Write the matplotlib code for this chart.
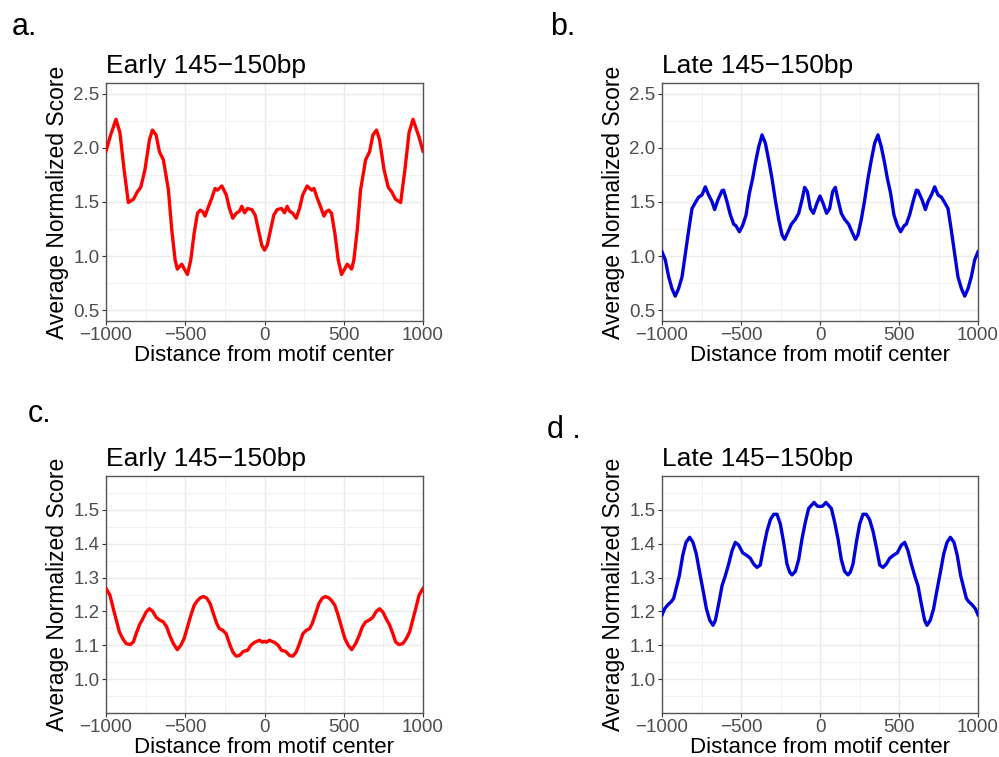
import matplotlib
matplotlib.use("Agg")
import matplotlib.pyplot as plt
from matplotlib.ticker import MultipleLocator, FuncFormatter

plt.rcParams['font.family'] = ['Liberation Sans', 'DejaVu Sans']

# panel a: early, wide scale
a_x = [-1000, -975, -937, -912, -886, -859, -827, -802, -781, -754, -726, -707, -684, -663,
       -638, -606, -585, -564, -550, -522, -507, -486, -465, -444, -423, -406, -389, -375,
       -354, -333, -312, -297, -269, -241, -221, -200, -179, -158, -143, -126, -107, -80,
       -59, -38, -17, 0, 17, 38, 59, 80, 107, 126, 143, 158, 179, 200, 221, 241, 269, 297,
       312, 333, 354, 375, 389, 406, 423, 444, 465, 486, 507, 522, 550, 564, 585, 606, 638,
       663, 684, 707, 726, 754, 781, 802, 827, 859, 886, 912, 937, 975, 1000]
a_y = [1.97, 2.10, 2.265, 2.14, 1.80, 1.495, 1.525, 1.595, 1.635, 1.80, 2.075, 2.165, 2.12, 1.965,
       1.89, 1.61, 1.24, 0.965, 0.88, 0.925, 0.885, 0.83, 0.965, 1.21, 1.395, 1.425, 1.41, 1.37,
       1.455, 1.535, 1.625, 1.61, 1.648, 1.565, 1.44, 1.35, 1.395, 1.415, 1.46, 1.40, 1.44, 1.43,
       1.38, 1.24, 1.10, 1.055, 1.10, 1.24, 1.38, 1.43, 1.44, 1.40, 1.46, 1.415, 1.395, 1.35, 1.44,
       1.565, 1.648, 1.61, 1.625, 1.535, 1.455, 1.37, 1.41, 1.425, 1.395, 1.21, 0.965, 0.83, 0.885,
       0.925, 0.88, 0.965, 1.24, 1.61, 1.89, 1.965, 2.12, 2.165, 2.075, 1.80, 1.635, 1.595, 1.525,
       1.495, 1.80, 2.14, 2.265, 2.10, 1.97]

# panel b: late, wide scale
b_x = [-1000, -979, -958, -937, -916, -895, -873, -852, -831, -810, -789, -768, -747, -726, -705,
       -684, -667, -646, -620, -610, -589, -567, -546, -532, -510, -489, -468, -447, -426, -409,
       -388, -367, -346, -325, -304, -283, -261, -240, -224, -202, -181, -156, -135, -114, -97,
       -80, -61, -42, -19, 0, 19, 42, 61, 80, 97, 114, 135, 156, 181, 202, 224, 240, 261, 283,
       304, 325, 346, 367, 388, 409, 426, 447, 468, 489, 510, 532, 546, 567, 589, 610, 620, 646,
       667, 684, 705, 726, 747, 768, 789, 810, 831, 852, 873, 895, 916, 937, 958, 979, 1000]
b_y = [1.04, 0.965, 0.81, 0.70, 0.63, 0.70, 0.81, 1.025, 1.24, 1.44, 1.495, 1.545, 1.565, 1.64, 1.565,
       1.505, 1.43, 1.52, 1.605, 1.61, 1.505, 1.38, 1.295, 1.28, 1.225, 1.285, 1.38, 1.58, 1.72, 1.86,
       2.01, 2.12, 2.045, 1.89, 1.72, 1.52, 1.335, 1.195, 1.155, 1.225, 1.295, 1.34, 1.395, 1.52, 1.635,
       1.595, 1.44, 1.395, 1.49, 1.555, 1.49, 1.395, 1.44, 1.595, 1.635, 1.52, 1.395, 1.34, 1.295, 1.225,
       1.155, 1.195, 1.335, 1.52, 1.72, 1.89, 2.045, 2.12, 2.01, 1.86, 1.72, 1.58, 1.38, 1.285, 1.225,
       1.28, 1.295, 1.38, 1.505, 1.61, 1.605, 1.52, 1.43, 1.505, 1.565, 1.64, 1.565, 1.545, 1.495, 1.44,
       1.24, 1.025, 0.81, 0.70, 0.63, 0.70, 0.81, 0.965, 1.04]

# panel c: early, narrow scale
c_x = [-1000, -975, -954, -937, -916, -895, -873, -848, -827, -810, -789, -768, -747, -726, -705,
       -684, -663, -638, -617, -596, -575, -550, -528, -507, -486, -465, -444, -423, -406, -385,
       -364, -343, -322, -301, -284, -263, -242, -221, -200, -179, -158, -133, -107, -86, -65,
       -31, -12, 0, 12, 31, 65, 86, 107, 133, 158, 179, 200, 221, 242, 263, 284, 301, 322, 343,
       364, 385, 406, 423, 444, 465, 486, 507, 528, 550, 575, 596, 617, 638, 663, 684, 705, 726,
       747, 768, 789, 810, 827, 848, 873, 895, 916, 937, 954, 975, 1000]
c_y = [1.268, 1.248, 1.208, 1.178, 1.14, 1.12, 1.105, 1.102, 1.11, 1.134, 1.16, 1.178, 1.198, 1.208, 1.20,
       1.183, 1.175, 1.169, 1.154, 1.127, 1.105, 1.087, 1.10, 1.12, 1.154, 1.188, 1.218, 1.232, 1.24, 1.244,
       1.239, 1.223, 1.193, 1.164, 1.149, 1.144, 1.134, 1.105, 1.08, 1.068, 1.07, 1.082, 1.085, 1.10, 1.108,
       1.115, 1.109, 1.112, 1.109, 1.115, 1.108, 1.10, 1.085, 1.082, 1.07, 1.068, 1.08, 1.105, 1.134, 1.144,
       1.149, 1.164, 1.193, 1.223, 1.239, 1.244, 1.24, 1.232, 1.218, 1.188, 1.154, 1.12, 1.10, 1.087, 1.105,
       1.127, 1.154, 1.169, 1.175, 1.183, 1.20, 1.208, 1.198, 1.178, 1.16, 1.134, 1.11, 1.102, 1.105, 1.12,
       1.14, 1.178, 1.208, 1.248, 1.268]

# panel d: late, narrow scale
d_x = [-1000, -983, -962, -941, -926, -911, -890, -869, -848, -825, -804, -783, -762, -740, -719,
       -698, -677, -662, -641, -620, -599, -578, -557, -536, -515, -489, -462, -441, -420, -399,
       -378, -357, -335, -314, -293, -272, -251, -230, -209, -192, -177, -156, -135, -114, -93,
       -72, -38, -17, 0, 17, 38, 72, 93, 114, 135, 156, 177, 192, 209, 230, 251, 272, 293, 314,
       335, 357, 378, 399, 420, 441, 462, 489, 515, 536, 557, 578, 599, 620, 641, 662, 677, 698,
       719, 740, 762, 783, 804, 825, 848, 869, 890, 911, 926, 941, 962, 983, 1000]
d_y = [1.19, 1.208, 1.22, 1.229, 1.239, 1.267, 1.306, 1.365, 1.404, 1.419, 1.404, 1.37, 1.316, 1.262, 1.208,
       1.174, 1.159, 1.174, 1.223, 1.276, 1.306, 1.34, 1.379, 1.404, 1.396, 1.373, 1.365, 1.357, 1.34, 1.33,
       1.337, 1.389, 1.438, 1.471, 1.487, 1.487, 1.458, 1.404, 1.34, 1.316, 1.308, 1.318, 1.353, 1.414, 1.463,
       1.504, 1.522, 1.511, 1.51, 1.511, 1.522, 1.504, 1.463, 1.414, 1.353, 1.318, 1.308, 1.316, 1.34, 1.404,
       1.458, 1.487, 1.487, 1.471, 1.438, 1.389, 1.337, 1.33, 1.34, 1.357, 1.365, 1.373, 1.396, 1.404, 1.379,
       1.34, 1.306, 1.276, 1.223, 1.174, 1.159, 1.174, 1.208, 1.262, 1.316, 1.37, 1.404, 1.419, 1.404, 1.365,
       1.306, 1.267, 1.239, 1.229, 1.22, 1.208, 1.19]

titles = ["Early 145\u2212150bp", "Late 145\u2212150bp", "Early 145\u2212150bp", "Late 145\u2212150bp"]
letters = ["a.", "b.", "c.", "d ."]

W, H = 999, 757
fig = plt.figure(figsize=(W / 100, H / 100), dpi=100)

# axes boxes in pixels: left, top, right, bottom
boxes = [(106, 83, 423, 321), (662, 83, 978, 321), (106, 476, 423, 713), (662, 476, 978, 713)]
letter_pos = [(12, 35), (550, 35), (28, 422), (547, 438)]

panels = [(a_x, a_y, "red", (0.4, 2.6), [0.5, 1.0, 1.5, 2.0, 2.5], 0.25),
          (b_x, b_y, "#0000DD", (0.4, 2.6), [0.5, 1.0, 1.5, 2.0, 2.5], 0.25),
          (c_x, c_y, "red", (0.9, 1.6), [1.0, 1.1, 1.2, 1.3, 1.4, 1.5], 0.05),
          (d_x, d_y, "#0000DD", (0.9, 1.6), [1.0, 1.1, 1.2, 1.3, 1.4, 1.5], 0.05)]

for i, (xs, ys, col, ylim, yt, mnr) in enumerate(panels):
    l, t, r, b = boxes[i]
    ax = fig.add_axes([l / W, 1 - b / H, (r - l) / W, (b - t) / H])
    ax.plot(xs, ys, color=col, lw=2.4, solid_joinstyle="round", zorder=3)
    ax.set_xlim(-1000, 1000)
    ax.set_ylim(*ylim)
    ax.xaxis.set_major_locator(MultipleLocator(500))
    ax.xaxis.set_minor_locator(MultipleLocator(250))
    ax.set_yticks(yt)
    ax.yaxis.set_minor_locator(MultipleLocator(mnr))
    ax.yaxis.set_major_formatter(FuncFormatter(lambda v, p: "{:.1f}".format(v)))
    ax.xaxis.set_major_formatter(FuncFormatter(lambda v, p: "{:d}".format(int(round(v))).replace("-", "\u2212")))
    ax.grid(True, which="major", color="#EBEBEB", lw=1.0, zorder=0)
    ax.grid(True, which="minor", color="#F2F2F2", lw=0.7, zorder=0)
    ax.set_axisbelow(True)
    for s in ax.spines.values():
        s.set_color("#555555")
        s.set_linewidth(1.0)
    ax.tick_params(which="major", length=3, width=0.8, color="#333333", pad=1.5,
                   labelsize=13.5, labelcolor="#4D4D4D")
    ax.tick_params(which="minor", length=0)
    ax.set_title(titles[i], loc="left", fontsize=19, pad=7, color="black")
    ax.set_xlabel("Distance from motif center", fontsize=16, color="black")
    ax.set_ylabel("Average Normalized Score", fontsize=16.5, color="black")
    ax.xaxis.set_label_coords(0.5, -0.1)
    ax.yaxis.set_label_coords(-0.118, 0.5)
    lx, ly = letter_pos[i]
    fig.text(lx / W, 1 - ly / H, letters[i], fontsize=22, color="black", ha="left", va="baseline")

fig.savefig("out.png", dpi=100)
